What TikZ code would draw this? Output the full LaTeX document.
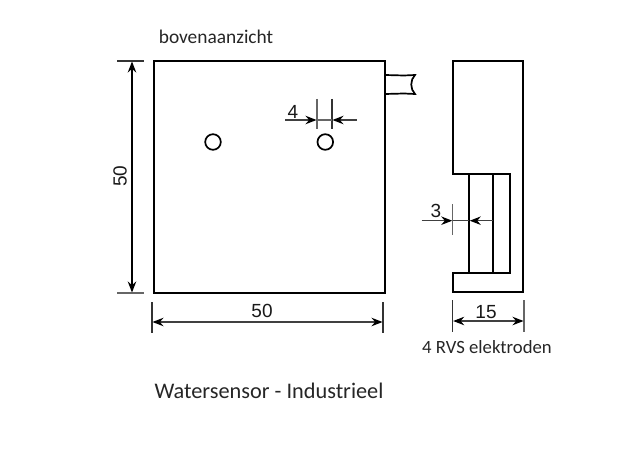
\documentclass[tikz,border=0pt]{standalone}
\usepackage{fontspec}
\setmainfont{Carlito}
\newfontfamily\dimfont{Liberation Sans}
\usetikzlibrary{arrows.meta}
\tikzset{
  x=1pt,y=-1pt,
  body/.style={draw=black,line width=2pt,line join=miter},
  thin part/.style={draw=black,line width=1.7pt},
  extline/.style={draw=black!60,line width=1.2pt},
  extdark/.style={draw=black!80,line width=1.2pt},
  dimline/.style={draw=black!75,line width=1.1pt},
  tip/.style={-{Stealth[length=11pt,width=8.5pt,black]}},
  tips/.style={{Stealth[length=11pt,width=8.5pt,black]}-{Stealth[length=11pt,width=8.5pt,black]}},
  dimtext/.style={font=\dimfont\fontsize{19}{21}\selectfont,text=black!90,inner sep=0pt},
  caption/.style={text=black!85,inner sep=0pt},
}
\begin{document}
\begin{tikzpicture}
\useasboundingbox[fill=white] (0,0) rectangle (620,465);
% top view
\draw[body] (153.5,61) rectangle (384.5,292.5);
\draw[body,line width=1.7pt] (213,142) circle (7.8);
\draw[body,line width=1.7pt] (325.3,142) circle (7.8);
% cable
\draw[thin part] (385,75) -- (404,75.5) -- (415,75) .. controls (410,80) and (410,89) .. (415,94) -- (404,93.5) -- (385,94);
% side view
\draw[body] (452.7,61) -- (523.3,61) -- (523.3,292.3) -- (452.7,292.3) -- (452.7,273) -- (510,273) -- (510,174.3) -- (452.7,174.3) -- cycle;
\draw[thin part] (469.3,174.3) -- (469.3,273);
\draw[thin part] (492.7,174.3) -- (492.7,273);
% dim left 50
\draw[extdark] (117,61) -- (144,61);
\draw[extline] (117,293) -- (144,293);
\draw[draw=black,line width=1.1pt,tips] (132,61.5) -- (132,292.5);
\node[dimtext,rotate=90] (dimA) at (120,176) {50};
% dim bottom 50
\draw[extdark] (152,302) -- (152,333);
\draw[extdark] (383,302) -- (383,333);
\draw[dimline,tips] (152.5,322) -- (382.5,322);
\node[dimtext] (dimB) at (262,311) {50};
% dim 4
\draw[extline] (317,99) -- (317,129);
\draw[extdark] (332,99) -- (332,129);
\draw[dimline,tip] (285,120) -- (316.5,120);
\draw[dimline,tip] (356.7,120) -- (332.5,120);
\draw[extline] (317,120) -- (332,120);
\node[dimtext] (dimC) at (293,112) {4};
% dim 3
\draw[extline] (452.7,204) -- (452.7,235);
\draw[dimline,tip] (421.7,220.7) -- (452.2,220.7);
\draw[dimline,tip] (492.7,220.7) -- (469.8,220.7);
\draw[dimline] (452.7,220.7) -- (469.3,220.7);
\node[dimtext] (dimD) at (436,211) {3};
% dim 15
\draw[extdark] (452.7,300) -- (452.7,332);
\draw[extline] (524,300) -- (524,332);
\draw[dimline,tips] (453.2,321) -- (523.5,321);
\node[dimtext] (dimE) at (486,312) {15};
% captions
\node[caption,font=\fontsize{19.4}{21}\selectfont] (top) at (216,37) {bovenaanzicht};
\node[caption,font=\fontsize{18.7}{21}\selectfont] (rvs) at (487,347) {4 RVS elektroden};
\node[caption,font=\fontsize{22.3}{24}\selectfont] (title) at (269,391) {Watersensor - Industrieel};
\end{tikzpicture}
\end{document}
